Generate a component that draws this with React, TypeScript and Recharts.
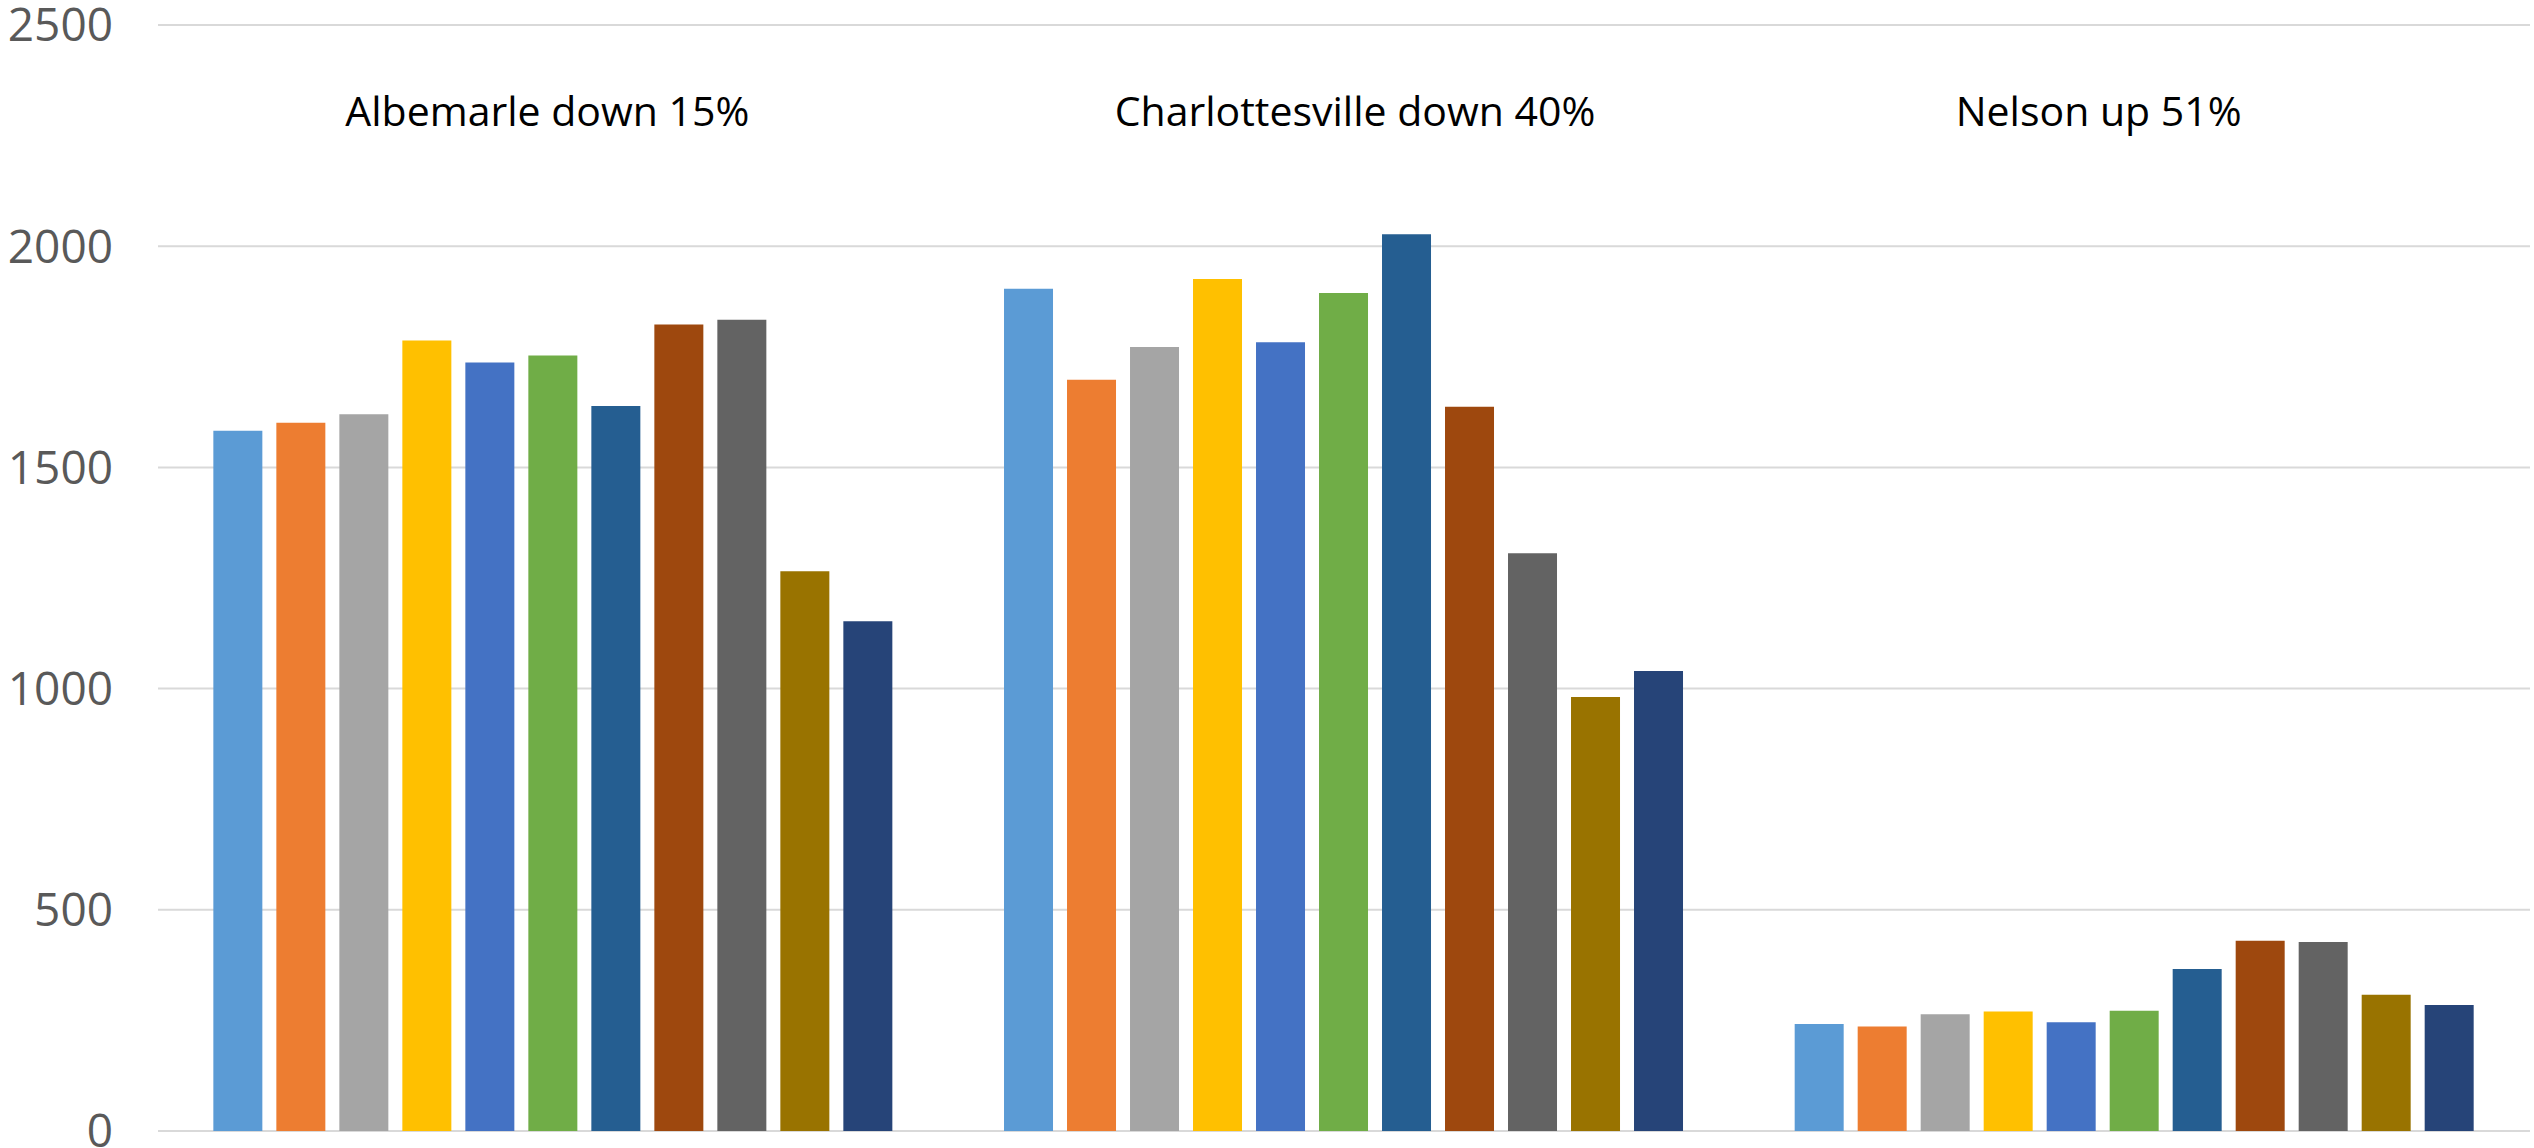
import React from 'react';
import { BarChart, Bar, XAxis, YAxis, CartesianGrid, ReferenceDot } from 'recharts';

// localities (x categories) and the note printed above each group
const groups = ['Albemarle', 'Charlottesville', 'Nelson'];
const groupNotes = ['Albemarle down 15%', 'Charlottesville down 40%', 'Nelson up 51%'];

// 11 series per group left to right
const seriesNames = ['S1', 'S2', 'S3', 'S4', 'S5', 'S6', 'S7', 'S8', 'S9', 'S10', 'S11'];
const albemarle = [1583, 1601, 1620, 1787, 1737, 1753, 1639, 1823, 1834, 1265, 1152];
const charlottesville = [1904, 1698, 1772, 1926, 1783, 1894, 2027, 1637, 1306, 981, 1040];
const nelson = [242, 236, 264, 270, 246, 272, 366, 430, 427, 308, 285];

const yTicks = [0, 500, 1000, 1500, 2000, 2500];

const seriesColors = [
  '#5B9BD5', '#ED7D31', '#A5A5A5', '#FFC000', '#4472C4', '#70AD47',
  '#255E91', '#9E480E', '#636363', '#997300', '#264478',
];

const byGroup = [albemarle, charlottesville, nelson];
const data = groups.map((g, gi) => {
  const row: Record<string, string | number> = { name: g };
  seriesNames.forEach((s, si) => {
    row[s] = byGroup[gi][si];
  });
  return row;
});

// small horizontal nudges so the notes sit where the original has them
const noteDx = [-6, 11, -36];

export default function App() {
  return (
    <div style={{ position: 'absolute', left: 0, top: 0 }}>
      <BarChart
        width={2534}
        height={1148}
        data={data}
        margin={{ top: 25, right: 4, left: 0, bottom: 17 }}
        barCategoryGap="7%"
        barGap={14}
      >
        <CartesianGrid vertical={false} stroke="#d9d9d9" strokeWidth={2} />
        <XAxis dataKey="name" hide />
        <YAxis
          width={158}
          domain={[0, 2500]}
          ticks={yTicks}
          interval={0}
          axisLine={false}
          tickLine={false}
          tickSize={0}
          tickMargin={45}
          tick={{ fill: '#595959', fontSize: 46, fontFamily: 'Open Sans' }}
        />
        {seriesNames.map((s, i) => (
          <Bar key={s} dataKey={s} fill={seriesColors[i]} isAnimationActive={false} />
        ))}
        {groups.map((g, i) => (
          <ReferenceDot
            key={g}
            x={g}
            y={2305}
            r={0}
            ifOverflow="visible"
            label={{
              value: groupNotes[i],
              position: 'center',
              dx: noteDx[i],
              fill: '#000',
              fontSize: 41,
              fontFamily: 'Open Sans',
            }}
          />
        ))}
      </BarChart>
    </div>
  );
}
